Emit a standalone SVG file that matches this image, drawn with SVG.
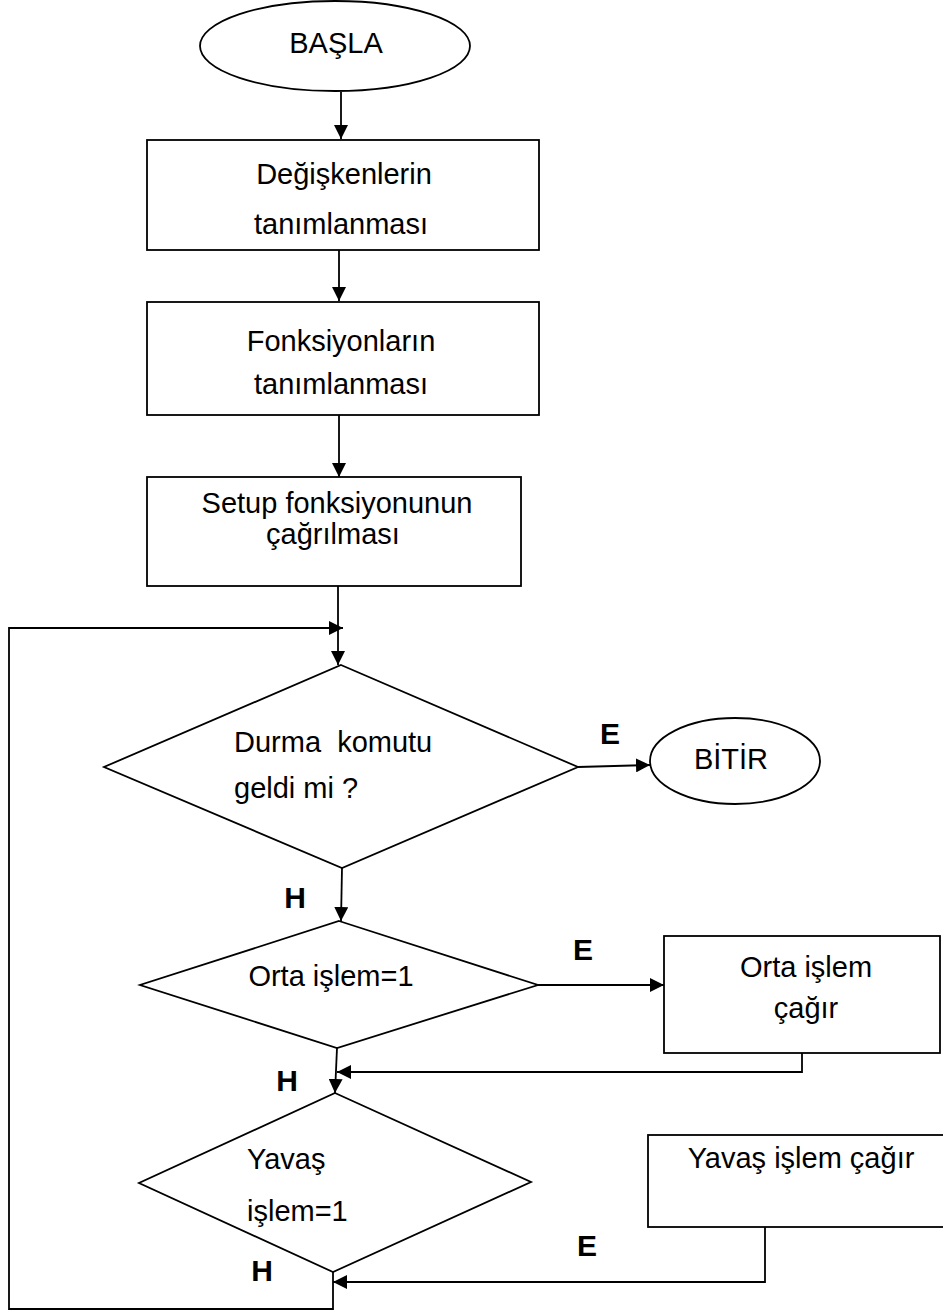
<svg xmlns="http://www.w3.org/2000/svg" width="943" height="1311" viewBox="0 0 943 1311">
  <defs>
    <marker id="arrow" markerUnits="userSpaceOnUse" markerWidth="14" markerHeight="14" viewBox="0 0 14 14" refX="14" refY="7" orient="auto">
      <path d="M0,0 L14,7 L0,14 Z" fill="#000"/>
    </marker>
    <style>
      .shape { fill: #fff; stroke: #000; stroke-width: 1.8; }
      .edge { fill: none; stroke: #000; stroke-width: 1.8; }
      .arrow { marker-end: url(#arrow); }
      .label { font-family: "Liberation Sans", Arial, sans-serif; font-size: 29px; fill: #000; }
      .mid { text-anchor: middle; }
      .bold { font-weight: bold; font-size: 30px; }
    </style>
  </defs>

  <!-- connectors -->
  <g id="connectors">
    <line class="edge arrow" x1="341" y1="92" x2="341" y2="139"/>
    <line class="edge arrow" x1="339" y1="250" x2="339" y2="301"/>
    <line class="edge arrow" x1="339" y1="415" x2="339" y2="477"/>
    <line class="edge arrow" x1="338" y1="586" x2="338" y2="665"/>
    <polyline class="edge arrow" points="333,1272 333,1309 9,1309 9,628 343,628"/>
    <line class="edge arrow" x1="578" y1="767" x2="650" y2="765"/>
    <line class="edge arrow" x1="342" y1="868" x2="341" y2="921"/>
    <line class="edge arrow" x1="538" y1="985" x2="664" y2="985"/>
    <polyline class="edge arrow" points="802,1053 802,1072 337,1072"/>
    <line class="edge arrow" x1="337" y1="1048" x2="335" y2="1093"/>
    <polyline class="edge arrow" points="765,1227 765,1282 333,1282"/>
    <text class="label bold mid" x="610" y="744">E</text>
    <text class="label bold mid" x="295" y="908">H</text>
    <text class="label bold mid" x="583" y="960">E</text>
    <text class="label bold mid" x="287" y="1091">H</text>
    <text class="label bold mid" x="587" y="1256">E</text>
    <text class="label bold mid" x="262" y="1281">H</text>
  </g>

  <g id="start">
    <ellipse class="shape" cx="335" cy="46" rx="135" ry="45"/>
    <text class="label mid" x="336" y="53">BAŞLA</text>
  </g>

  <g id="declare-vars">
    <rect class="shape" x="147" y="140" width="392" height="110"/>
    <text class="label mid" x="344" y="184">Değişkenlerin</text>
    <text class="label mid" x="341" y="234">tanımlanması</text>
  </g>

  <g id="declare-funcs">
    <rect class="shape" x="147" y="302" width="392" height="113"/>
    <text class="label mid" x="341" y="351">Fonksiyonların</text>
    <text class="label mid" x="341" y="394">tanımlanması</text>
  </g>

  <g id="call-setup">
    <rect class="shape" x="147" y="477" width="374" height="109"/>
    <text class="label mid" x="337" y="513">Setup fonksiyonunun</text>
    <text class="label mid" x="333" y="544">çağrılması</text>
  </g>

  <g id="stop-check">
    <polygon class="shape" points="341,665 578,767 342,868 104,767"/>
    <text class="label" x="234" y="752" xml:space="preserve">Durma  komutu</text>
    <text class="label" x="234" y="798">geldi mi ?</text>
  </g>

  <g id="end">
    <ellipse class="shape" cx="735" cy="761" rx="85" ry="43"/>
    <text class="label mid" x="731" y="769">BİTİR</text>
  </g>

  <g id="mid-check">
    <polygon class="shape" points="339,921 538,985 337,1048 140,985"/>
    <text class="label mid" x="331" y="986">Orta işlem=1</text>
  </g>

  <g id="mid-call">
    <rect class="shape" x="664" y="936" width="276" height="117"/>
    <text class="label mid" x="806" y="977">Orta işlem</text>
    <text class="label mid" x="806" y="1018">çağır</text>
  </g>

  <g id="slow-check">
    <polygon class="shape" points="335,1093 531,1182 333,1272 139,1183"/>
    <text class="label" x="247" y="1169">Yavaş</text>
    <text class="label" x="247" y="1221">işlem=1</text>
  </g>

  <g id="slow-call">
    <rect class="shape" x="648" y="1135" width="310" height="92"/>
    <text class="label mid" x="801" y="1168">Yavaş işlem çağır</text>
  </g>
</svg>
